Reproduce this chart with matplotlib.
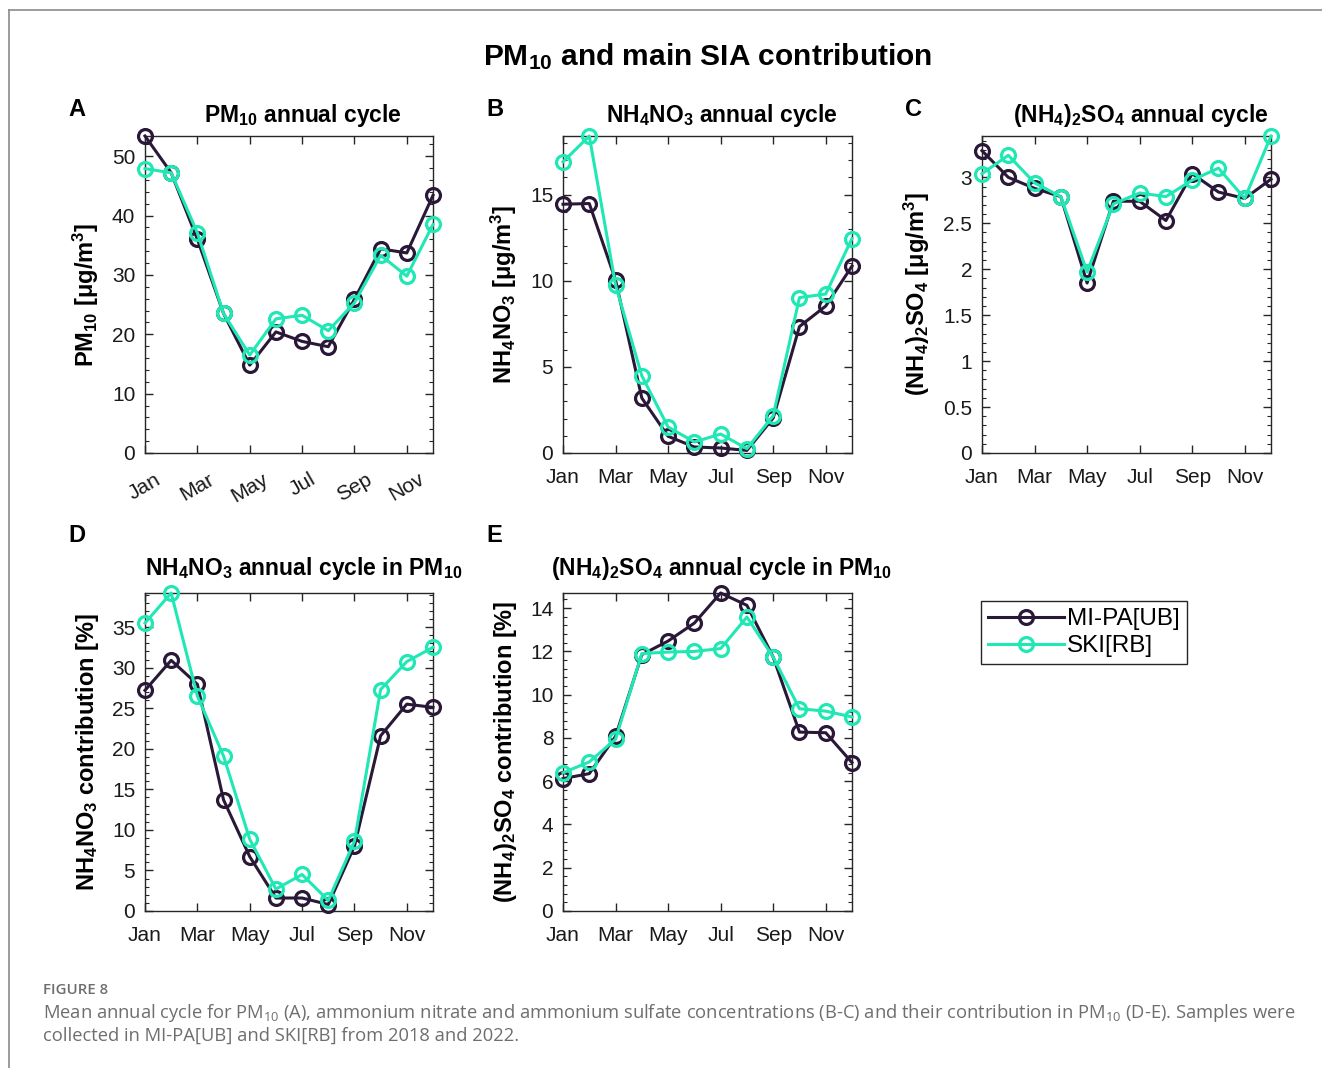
import numpy as np
import matplotlib
matplotlib.use("Agg")
import matplotlib.pyplot as plt
from matplotlib.ticker import MultipleLocator, FormatStrFormatter
from matplotlib.lines import Line2D

plt.rcParams['font.family'] = ['Liberation Sans', 'DejaVu Sans']
plt.rcParams['mathtext.default'] = 'regular'

# data
months = np.arange(1, 13)
month_ticks = [1, 3, 5, 7, 9, 11]
month_labels = ['Jan', 'Mar', 'May', 'Jul', 'Sep', 'Nov']

pm10_mi = [53.4, 47.2, 36.0, 23.5, 14.8, 20.4, 18.8, 17.9, 25.9, 34.4, 33.7, 43.4]
pm10_ski = [47.9, 47.2, 37.1, 23.5, 16.5, 22.6, 23.2, 20.6, 25.3, 33.3, 29.8, 38.5]

nit_mi = [14.44, 14.48, 10.04, 3.19, 0.97, 0.35, 0.29, 0.15, 2.03, 7.34, 8.53, 10.85]
nit_ski = [16.9, 18.4, 9.75, 4.48, 1.51, 0.64, 1.10, 0.25, 2.16, 9.02, 9.23, 12.45]

sul_mi = [3.29, 3.00, 2.88, 2.79, 1.85, 2.74, 2.74, 2.53, 3.04, 2.84, 2.77, 2.98]
sul_ski = [3.04, 3.24, 2.94, 2.79, 1.97, 2.71, 2.83, 2.79, 2.97, 3.10, 2.77, 3.45]

nitc_mi = [27.2, 30.9, 27.95, 13.7, 6.7, 1.6, 1.6, 0.8, 8.0, 21.6, 25.5, 25.1]
nitc_ski = [35.5, 39.2, 26.5, 19.1, 8.85, 2.7, 4.5, 1.3, 8.6, 27.3, 30.75, 32.5]

sulc_mi = [6.12, 6.35, 8.07, 11.85, 12.48, 13.31, 14.7, 14.13, 11.74, 8.27, 8.24, 6.86]
sulc_ski = [6.39, 6.89, 7.94, 11.9, 11.97, 12.0, 12.13, 13.59, 11.74, 9.35, 9.24, 8.97]

c_mi = '#2a1838'
c_ski = '#1fe8b4'
axc = '#262626'

W, H = 1322, 1068
fig = plt.figure(figsize=(W / 100, H / 100), dpi=100)

def box(l, t, r, b):
    return [l / W, 1 - b / H, (r - l) / W, (b - t) / H]

panels = [
    (box(145, 136, 433, 453), pm10_mi, pm10_ski, 10, 2,
     'PM$_{10}$ annual cycle', r'PM$_{10}$ [$\mu$g/m$^3$]', 'A'),
    (box(563, 136, 852, 453), nit_mi, nit_ski, 5, 1,
     'NH$_4$NO$_3$ annual cycle', r'NH$_4$NO$_3$ [$\mu$g/m$^3$]', 'B'),
    (box(982, 136, 1271, 453), sul_mi, sul_ski, 0.5, 0.1,
     '(NH$_4$)$_2$SO$_4$ annual cycle', r'(NH$_4$)$_2$SO$_4$ [$\mu$g/m$^3$]', 'C'),
    (box(145, 593, 433, 911), nitc_mi, nitc_ski, 5, 1,
     'NH$_4$NO$_3$ annual cycle in PM$_{10}$', 'NH$_4$NO$_3$ contribution [%]', 'D'),
    (box(563, 593, 852, 911), sulc_mi, sulc_ski, 2, 0.4,
     '(NH$_4$)$_2$SO$_4$ annual cycle in PM$_{10}$', '(NH$_4$)$_2$SO$_4$ contribution [%]', 'E'),
]

for i, (rect, mi, ski, major, minor, title, ylab, letter) in enumerate(panels):
    ax = fig.add_axes(rect)
    ax.plot(months, mi, '-o', color=c_mi, lw=2.2, ms=10, mew=2.3, mfc='none',
            label='MI-PA[UB]', clip_on=False, zorder=3)
    ax.plot(months, ski, '-o', color=c_ski, lw=2.2, ms=10, mew=2.3, mfc='none',
            label='SKI[RB]', clip_on=False, zorder=3)
    ax.set_xlim(1, 12)
    ax.set_ylim(0, max(max(mi), max(ski)))
    ax.set_xticks(month_ticks)
    if i == 0:
        ax.set_xticklabels(month_labels, rotation=30, ha='center')
    else:
        ax.set_xticklabels(month_labels)
    ax.yaxis.set_major_locator(MultipleLocator(major))
    ax.yaxis.set_minor_locator(MultipleLocator(minor))
    ax.yaxis.set_major_formatter(FormatStrFormatter('%g'))
    ax.tick_params(which='both', direction='in', top=True, right=True,
                   labelsize=15, colors=axc, labelcolor='#1a1a1a')
    ax.tick_params(which='major', length=6, width=1)
    ax.tick_params(which='minor', length=3, width=0.8)
    ax.tick_params(axis='y', pad=7)
    ax.tick_params(axis='x', pad=12 if i == 0 else 11)
    for s in ax.spines.values():
        s.set_color(axc)
        s.set_linewidth(1)
    ax.set_ylabel(ylab, fontsize=17, fontweight='bold', labelpad=8)
    ax.set_title(title, fontsize=16.5, fontweight='bold', x=0.55,
                 pad=10 if i < 3 else 13)
    ax.text(-0.265, 1.085 if i < 3 else 1.18, letter, transform=ax.transAxes,
            fontsize=17, fontweight='bold', va='center', ha='left')
    if i == 0:
        handles, labels = ax.get_legend_handles_labels()

fig.text(708 / W, 1 - 57 / H, 'PM$_{10}$ and main SIA contribution',
         fontsize=21.5, fontweight='bold', ha='center', va='center')

fig.legend(handles, labels, loc='upper left', bbox_to_anchor=(981 / W, 1 - 601 / H),
           fontsize=17.5, frameon=True, fancybox=False, edgecolor='#262626',
           borderpad=0.3, handlelength=3.1, handletextpad=0.15, labelspacing=0.2,
           borderaxespad=0, framealpha=1)

# outer frame lines
fig.add_artist(Line2D([9 / W, 1], [1 - 10 / H, 1 - 10 / H], color='#8a8a8a', lw=1.2))
fig.add_artist(Line2D([9 / W, 9 / W], [0, 1 - 10 / H], color='#8a8a8a', lw=1.2))

cap = dict(family=['Open Sans', 'DejaVu Sans'], color='#6e6e6e')
fig.text(43 / W, 1 - 990 / H, 'FIGURE 8', fontsize=10.8, fontweight='semibold', va='center', **cap)
fig.text(43 / W, 1 - 1013 / H,
         'Mean annual cycle for PM$_{10}$ (A), ammonium nitrate and ammonium sulfate concentrations '
         '(B-C) and their contribution in PM$_{10}$ (D-E). Samples were',
         fontsize=13.2, va='center', **cap)
fig.text(43 / W, 1 - 1036 / H, 'collected in MI-PA[UB] and SKI[RB] from 2018 and 2022.',
         fontsize=13.2, va='center', **cap)

fig.savefig('out.png', dpi=100)
